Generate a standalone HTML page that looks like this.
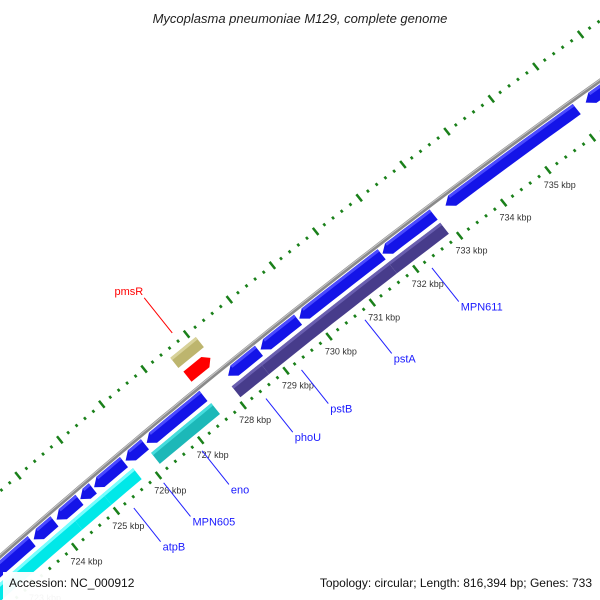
<!DOCTYPE html>
<html><head><meta charset="utf-8"><style>
html,body{margin:0;padding:0;background:#fff;width:600px;height:600px;overflow:hidden}
svg{display:block;overflow:hidden}
</style></head><body>
<svg id="map" width="600" height="600" viewBox="0 0 600 600" xmlns="http://www.w3.org/2000/svg" font-family="Liberation Sans, sans-serif">
<rect width="600" height="600" fill="#fff"/>
<g id="layer"></g>
<text x="300" y="23" text-anchor="middle" font-size="13" font-style="italic" fill="#222">Mycoplasma pneumoniae M129, complete genome</text>
<rect x="3" y="572" width="140" height="28" fill="#fff" opacity="0.95"/>
<text x="9" y="587" font-size="12" fill="#111">Accession: NC_000912</text>
<rect x="280" y="572" width="320" height="28" fill="#fff" opacity="0.95"/>
<text x="592" y="587" text-anchor="end" font-size="12" fill="#111">Topology: circular; Length: 816,394 bp; Genes: 733</text>
</svg>
<script>
// data (kbp)
const blueStart = [721.5, 723.5, 724.05, 724.62, 724.95, 725.7, 726.2, 728.12, 728.88, 729.78, 731.7, 733.14, 736.3];
const blueEnd   = [723.45, 724.0, 724.6, 724.92, 725.66, 726.16, 727.54, 728.84, 729.75, 731.68, 732.87, 736.1, 740];
const purpleStart = [728.05, 728.72, 731.68];
const purpleEnd   = [728.72, 731.68, 732.87];
const cyanStart = [721.5, 724.3, 725.0];
const cyanEnd   = [724.3, 725.0, 725.72];
const tealStart = [726.15];
const tealEnd   = [727.57];
const tickKbp = [718,719,720,721,722,723,724,725,726,727,728,729,730,731,732,733,734,735];
const tickLabels = ["718 kbp","719 kbp","720 kbp","721 kbp","722 kbp","723 kbp","724 kbp","725 kbp","726 kbp","727 kbp","728 kbp","729 kbp","730 kbp","731 kbp","732 kbp","733 kbp","734 kbp","735 kbp"];
const geneNames = ["MPN611","pstA","pstB","phoU","eno","MPN605","atpB"];
const genePos   = [732.24, 730.70, 729.23, 728.40, 726.90, 725.99, 725.28];
const outerName = ["pmsR"];
const outerPos  = [727.81];

const NS="http://www.w3.org/2000/svg";
const layer=document.getElementById('layer');
const B=[243,405], D=[0.782,-0.623], N=[0.623,0.782], PX=55, CURV=6.7e-5, UC=80;
function P(k,v){const u=(k-728)*PX;const vv=v+CURV*(u-UC)*(u-UC);return [B[0]+u*D[0]+vv*N[0], B[1]+u*D[1]+vv*N[1]];}
function pts(a){return a.map(p=>p[0].toFixed(1)+','+p[1].toFixed(1)).join(' ');}
function mk(tag,attrs){const e=document.createElementNS(NS,tag);for(const k in attrs)e.setAttribute(k,attrs[k]);layer.appendChild(e);return e;}
function curve(v,k0,k1){const a=[];for(let k=k0;k<=k1;k+=0.25)a.push(P(k,v));return pts(a);}

// backbone
let e=mk('polyline',{points:curve(-42,715,745),fill:'none',stroke:'#8a8a8a','stroke-width':4});


e=mk('polyline',{points:curve(-43,715,745),fill:'none',stroke:'#c8c8c8','stroke-width':1});



// tick rings
function ring(v,name){
  for(let i=0;i<=24*5;i++){
    const k=718+i*0.2;const major=(i%5===0);
    const h=major?4.5:1.5;const a=P(k,v-h),b=P(k,v+h);
    const t=mk('line',{x1:a[0],y1:a[1],x2:b[0],y2:b[1],stroke:'#1a801a','stroke-width':2.5});
    
    
  }
}
ring(0,'inner-ring');ring(-91,'outer-ring');

// tick labels
tickKbp.forEach((k,i)=>{const p=P(k,19);
  const t=mk('text',{x:p[0],y:p[1]+3,'text-anchor':'middle','font-size':9,fill:'#333'});
  t.textContent=tickLabels[i];
  
  
});

function feature(s,en,v0,v1,fill,hl,arrow,name){
  const vm=(v0+v1)/2;
  const h=arrow?Math.min(0.15,(en-s)*0.5):0;
  const top=[],bot=[];
  const n=Math.max(1,Math.ceil((en-(s+h))/0.25));
  for(let j=0;j<=n;j++){const k=s+h+(en-s-h)*j/n;top.push(P(k,v0));bot.push(P(k,v1));}
  let poly=top.concat(bot.reverse());
  if(arrow)poly.push(P(s,vm));
  const f=mk('polygon',{points:pts(poly),fill:fill,stroke:'none'});
  
  
  const t2=[],b2=[];
  for(let j=0;j<=n;j++){const k=s+h+(en-s-h)*j/n;t2.push(P(k,v0));b2.push(P(k,v0+3));}
  const s2=mk('polygon',{points:pts(t2.concat(b2.reverse())),fill:hl});
  
  
}
blueStart.forEach((s,i)=>feature(s,blueEnd[i],-39,-26,'#1414e8','#4a4aff',true,'forward-gene'));
purpleStart.forEach((s,i)=>feature(s,purpleEnd[i],-22,-8,'#473c8b','#6a5fb0',false,'operon-gene'));
cyanStart.forEach((s,i)=>feature(s,cyanEnd[i],-22,-8,'#00e8e8','#7ff',false,'cyan-gene'));
tealStart.forEach((s,i)=>feature(s,tealEnd[i],-22,-8,'#1cb8b8','#4dd',false,'teal-gene'));
feature(727.5,728.1,-83,-70,'#bdb56e','#d8d29a',false,'pmsR-box');
// red arrow pointing forward
(function(){const s=727.53,en=728.07,v0=-64,v1=-51,vm=-57.5,h=0.12;
 const f=mk('polygon',{points:pts([P(s,v0),P(en-h,v0),P(en,vm),P(en-h,v1),P(s,v1)]),fill:'#f00'});
 
 })();

// gene labels
geneNames.forEach((g,i)=>{const a=P(genePos[i],9),b=P(genePos[i],52);
  const l=mk('line',{x1:a[0],y1:a[1],x2:b[0],y2:b[1],stroke:'#2020ff','stroke-width':1});
  
  
  const t=mk('text',{x:b[0]+2,y:b[1]+9,'font-size':11,fill:'#1a1aff'});
  t.textContent=g;
  
  
});
outerName.forEach((g,i)=>{const a=P(outerPos[i],-101),b=P(outerPos[i],-146);
  const l=mk('line',{x1:a[0],y1:a[1],x2:b[0],y2:b[1],stroke:'#f00','stroke-width':1});
  
  
  const t=mk('text',{x:b[0]-1,y:b[1]-3,'text-anchor':'end','font-size':11,fill:'#f00'});
  t.textContent=g;
  
  
});
</script>
</body></html>
